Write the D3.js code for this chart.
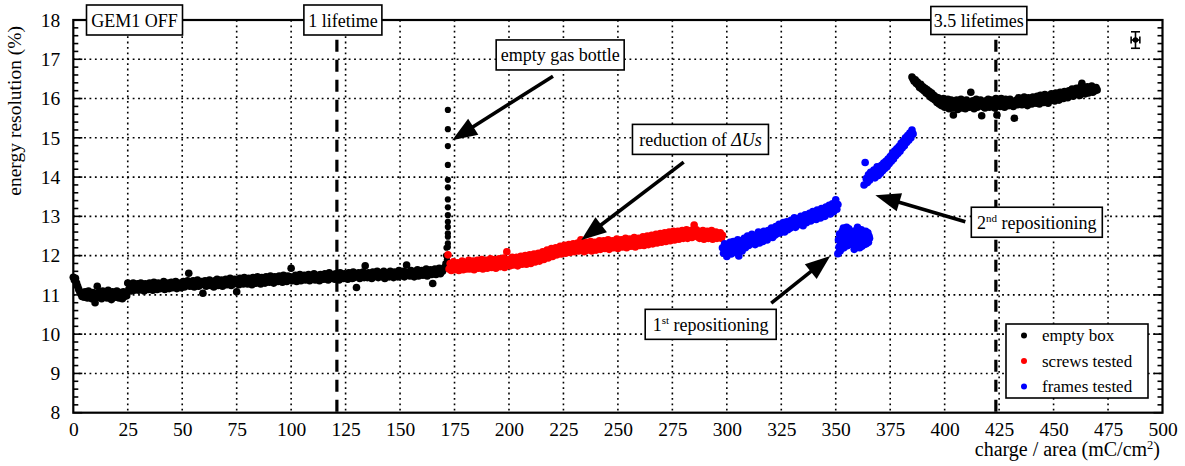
<!DOCTYPE html>
<html><head><meta charset="utf-8">
<script src="https://cdn.jsdelivr.net/npm/d3@7"></script>
<style>
html,body{margin:0;padding:0;background:#fff;}
svg{display:block;font-family:'Liberation Serif','Times New Roman',serif;}
</style></head>
<body>
<svg id="chart" width="1185" height="466"></svg>
<script>
// ---------------- DATA ----------------
const xTickValues = [0,25,50,75,100,125,150,175,200,225,250,275,300,325,350,375,400,425,450,475,500];
const yTickValues = [8,9,10,11,12,13,14,15,16,17,18];

// empty box (first part): measurements every 0.5 mC/cm2 starting at 0
const emptyBox1Start = 0;
const emptyBox1Y = [
11.45,11.38,11.42,11.30,11.22,11.14,11.08,11.02,10.96,11.06,
10.94,11.08,11.00,10.92,11.10,10.98,11.04,10.90,11.06,10.96,
10.80,11.02,11.22,10.94,11.08,10.98,10.90,11.10,11.00,10.94,
11.06,10.92,11.12,10.98,11.04,10.88,11.08,10.96,11.02,10.94,
11.10,10.96,10.92,11.06,11.00,10.90,11.08,10.96,11.04,10.98,
11.30,11.14,11.26,11.10,11.20,11.30,11.12,11.24,11.16,11.28,
11.12,11.22,11.30,11.16,11.24,11.10,11.28,11.18,11.22,11.14,
11.30,11.18,11.24,11.12,11.32,11.20,11.26,11.14,11.30,11.22,
11.16,11.28,11.20,11.34,11.14,11.26,11.22,11.30,11.16,11.24,
11.32,11.18,11.26,11.20,11.34,11.16,11.28,11.22,11.30,11.18,
11.26,11.34,11.20,11.30,11.24,11.36,11.55,11.22,11.30,11.26,
11.36,11.20,11.32,11.24,11.38,11.22,11.30,11.26,11.34,11.04,
11.28,11.36,11.22,11.32,11.26,11.38,11.24,11.34,11.28,11.20,
11.36,11.26,11.40,11.24,11.32,11.28,11.38,11.22,11.34,11.30,
11.40,11.26,11.34,11.30,11.42,11.24,11.36,11.28,11.40,11.32,
11.08,11.36,11.26,11.42,11.30,11.38,11.28,11.44,11.32,11.36,
11.28,11.42,11.34,11.38,11.26,11.44,11.32,11.40,11.30,11.46,
11.34,11.38,11.28,11.44,11.36,11.42,11.30,11.46,11.34,11.40,
11.32,11.48,11.36,11.42,11.30,11.46,11.38,11.44,11.34,11.48,
11.36,11.42,11.32,11.50,11.38,11.44,11.34,11.48,11.40,11.46,
11.68,11.36,11.44,11.40,11.50,11.34,11.46,11.42,11.52,11.36,
11.48,11.40,11.50,11.38,11.46,11.42,11.52,11.36,11.48,11.44,
11.40,11.54,11.38,11.48,11.44,11.50,11.36,11.52,11.42,11.48,
11.40,11.54,11.44,11.50,11.38,11.56,11.42,11.48,11.46,11.52,
11.40,11.54,11.44,11.50,11.38,11.56,11.46,11.50,11.42,11.54,
11.44,11.52,11.40,11.56,11.46,11.50,11.42,11.58,11.44,11.52,
11.19,11.48,11.56,11.42,11.52,11.46,11.58,11.44,11.74,11.50,
11.44,11.56,11.48,11.52,11.42,11.58,11.46,11.54,11.50,11.60,
11.44,11.56,11.48,11.52,11.46,11.60,11.42,11.56,11.50,11.54,
11.46,11.60,11.48,11.56,11.44,11.58,11.50,11.54,11.46,11.62,
11.48,11.56,11.50,11.60,11.46,11.58,11.76,11.52,11.56,11.48,
11.62,11.50,11.58,11.46,11.60,11.54,11.64,11.48,11.58,11.52,
11.62,11.50,11.60,11.54,11.66,11.48,11.60,11.56,11.64,11.52,
11.29,11.58,11.66,11.52,11.62,11.56,11.68,11.54,11.64,11.60,
11.66,11.70];

// empty gas bottle spike (empty box series)
const gasBottleX = [170.8,171.1,171.3,171.5,171.95,171.95,171.95,171.95,171.95,171.95,171.95,171.95,171.95,171.95,171.95,171.95,171.95,171.95,171.95];
const gasBottleY = [11.80,12.00,12.20,11.90,12.22,12.31,12.48,12.57,12.73,12.86,13.03,13.23,13.43,13.74,13.93,14.31,14.79,15.22,15.71];

// screws tested: every 0.5 mC/cm2 starting at 172
const screwsStart = 172;
const screwsY = [
12.02,11.66,11.80,11.62,11.74,11.84,11.64,11.76,11.68,11.82,
11.62,11.78,11.70,11.86,11.64,11.76,11.82,11.66,11.74,11.88,
11.66,11.80,11.72,11.86,11.64,11.78,11.70,11.88,11.68,11.80,
11.74,11.90,11.66,11.82,11.76,11.88,11.68,11.84,11.72,11.92,
11.70,11.84,11.76,11.90,11.68,11.86,11.78,11.92,11.72,11.84,
11.80,11.94,11.70,11.88,12.10,11.78,11.90,11.74,11.86,11.96,
11.76,11.90,11.82,11.96,11.74,11.88,11.80,11.98,11.78,11.92,
11.84,12.00,11.78,11.94,11.86,12.02,11.80,11.96,11.88,12.04,
11.84,11.98,11.92,12.06,11.86,12.02,11.96,12.10,11.90,12.06,
12.00,12.14,11.94,12.08,12.04,12.18,11.98,12.12,12.06,12.20,
12.02,12.16,12.10,12.24,12.04,12.18,12.12,12.26,12.06,12.20,
12.14,12.28,12.08,12.22,12.16,12.30,12.10,12.24,12.18,12.32,
12.12,12.26,12.40,12.16,12.30,12.10,12.22,12.34,12.14,12.28,
12.20,12.36,12.12,12.26,12.18,12.34,12.14,12.30,12.22,12.38,
12.16,12.32,12.24,12.38,12.18,12.30,12.22,12.40,12.16,12.34,
12.24,12.38,12.20,12.34,12.26,12.42,12.18,12.36,12.28,12.40,
12.22,12.36,12.30,12.44,12.20,12.38,12.26,12.42,12.24,12.36,
12.30,12.46,12.22,12.40,12.28,12.44,12.26,12.38,12.32,12.48,
12.26,12.42,12.34,12.50,12.28,12.44,12.36,12.52,12.30,12.46,
12.38,12.54,12.32,12.48,12.40,12.56,12.34,12.50,12.42,12.58,
12.36,12.52,12.44,12.60,12.38,12.54,12.46,12.62,12.40,12.56,
12.48,12.62,12.42,12.58,12.50,12.64,12.44,12.60,12.52,12.66,
12.44,12.58,12.50,12.64,12.46,12.60,12.78,12.52,12.66,12.48,
12.62,12.44,12.58,12.50,12.64,12.42,12.56,12.48,12.62,12.44,
12.58,12.50,12.64,12.42,12.56,12.46,12.60,12.44,12.54,12.48,
12.58,12.44,12.52];

// frames tested, first stretch: every 0.5 starting at 298
const frames1Start = 298;
const frames1Y = [
12.20,12.06,12.30,12.12,11.98,12.24,12.10,12.34,12.04,12.20,
12.36,12.08,12.26,12.14,12.40,11.99,12.22,12.38,12.12,12.30,
12.44,12.20,12.36,12.50,12.26,12.42,12.30,12.54,12.34,12.46,
12.28,12.52,12.38,12.60,12.32,12.48,12.56,12.36,12.62,12.44,
12.54,12.40,12.64,12.48,12.58,12.70,12.46,12.62,12.52,12.74,
12.56,12.68,12.80,12.58,12.72,12.64,12.84,12.60,12.76,12.86,
12.66,12.80,12.70,12.90,12.74,12.84,12.96,12.72,12.88,12.78,
12.94,12.80,13.00,12.86,12.76,12.96,13.04,12.84,12.98,12.90,
13.08,12.88,13.02,13.12,12.94,13.06,12.92,13.16,13.00,13.10,
12.96,13.20,13.04,13.14,13.00,13.24,13.08,13.18,13.28,13.06,
13.22,13.32,13.12,13.26,13.42,13.18,13.30];

// frames tested, after 1st repositioning: every 0.25 starting at 351
const frames2Start = 351;
const frames2Y = [
12.05,12.40,12.22,12.55,12.12,12.35,12.48,12.18,12.62,12.30,
12.70,12.20,12.45,12.28,12.60,12.38,12.72,12.25,12.55,12.34,
12.68,12.28,12.50,12.36,12.62,12.30,12.58,12.40,12.52,12.45,
12.16,12.42,12.30,12.64,12.22,12.50,12.72,12.26,12.40,12.58,
12.20,12.46,12.34,12.66,12.24,12.52,12.38,12.60,12.28,12.48,
12.36,12.62,12.30,12.54,12.42,12.58,12.34,12.50,12.44];

// frames tested, after 2nd repositioning: every 0.5 starting at 363
const frames3Start = 363;
const frames3Y = [
13.80,14.37,13.96,13.86,14.06,13.92,14.12,13.98,14.04,14.18,
13.98,14.14,14.26,14.04,14.20,14.10,14.30,14.16,14.36,14.22,
14.40,14.26,14.46,14.34,14.52,14.40,14.60,14.46,14.66,14.54,
14.72,14.60,14.78,14.66,14.86,14.74,14.92,14.80,15.00,14.88,
15.06,14.94,15.12,15.00,15.20,15.10];

// empty box (second part): every 0.5 starting at 385
const emptyBox2Start = 385;
const emptyBox2Y = [
16.55,16.50,16.44,16.48,16.38,16.42,16.34,16.28,16.36,16.24,
16.30,16.20,16.26,16.14,16.22,16.10,16.18,16.04,16.14,16.00,
16.08,15.96,16.04,15.90,16.02,15.86,15.98,15.82,15.94,16.00,
15.78,15.92,15.84,15.98,15.74,15.88,15.96,15.76,15.58,15.90,
15.80,15.96,15.72,15.88,15.82,15.98,15.76,15.92,15.84,15.74,
15.96,15.80,15.90,15.78,16.16,15.86,15.94,15.74,15.88,15.98,
15.78,15.92,15.84,15.96,15.56,15.80,15.90,15.76,15.94,15.84,
15.98,15.78,15.88,15.96,15.80,15.92,15.76,16.00,15.58,15.86,
15.94,15.80,16.00,15.84,15.92,15.78,15.98,15.86,15.94,15.82,
15.98,15.84,15.92,15.80,15.50,15.90,15.96,15.84,16.02,15.88,
15.98,15.84,15.94,16.04,15.86,15.96,15.82,16.02,15.90,15.98,
15.86,16.04,15.92,16.00,15.88,16.06,15.94,15.86,16.08,15.96,
16.02,15.90,16.10,15.94,16.04,15.88,16.08,15.98,16.12,15.96,
16.06,15.94,16.14,16.00,16.08,15.96,16.16,16.02,16.10,16.00,
16.18,16.04,16.12,16.02,16.20,16.08,16.14,16.24,16.06,16.18,
16.10,16.26,16.14,16.20,16.08,16.30,16.39,16.16,16.28,16.12,
16.22,16.30,16.14,16.26,16.18,16.32,16.16,16.24,16.20,16.28,
16.22];

const lifetimeX = [121, 423.5];
const lifetimeLabels = ["1 lifetime", "3.5 lifetimes"];
const legendLabels = ["empty box", "screws tested", "frames tested"];
const legendColors = ["#000000", "#ff0000", "#0000ff"];

// typical uncertainty marker
const errPoint = {x: 487.6, y: 17.49, ex: 2.0, ey: 0.21};

// ---------------- CHART ----------------
const svg = d3.select("#chart");
const x = d3.scaleLinear().domain([0, 500]).range([73.3, 1162.5]);
const y = d3.scaleLinear().domain([8, 18]).range([412.7, 20]);
const FONT = "'Liberation Serif','Times New Roman',serif";

function seq(start, step, arr) { return arr.map((v, i) => ({x: start + i * step, y: v})); }

const blackBand = seq(emptyBox1Start, 0.5, emptyBox1Y).concat(seq(emptyBox2Start, 0.5, emptyBox2Y));
const blackSpike = gasBottleX.map((v, i) => ({x: v, y: gasBottleY[i]}));
const red = seq(screwsStart, 0.5, screwsY);
const blue = seq(frames1Start, 0.5, frames1Y)
  .concat(seq(frames2Start, 0.25, frames2Y))
  .concat(seq(frames3Start, 0.5, frames3Y));

// grid
const grid = svg.append("g");
grid.selectAll("line.gx").data(xTickValues.filter(v => v > 0 && v < 500)).enter().append("line")
  .attr("x1", d => x(d)).attr("x2", d => x(d)).attr("y1", y(18)).attr("y2", y(8))
  .attr("stroke", "#000").attr("stroke-width", 1.6).attr("stroke-dasharray", "1.8,3.6");
grid.selectAll("line.gy").data(yTickValues.filter(v => v > 8 && v < 18)).enter().append("line")
  .attr("x1", x(0)).attr("x2", x(500)).attr("y1", d => y(d)).attr("y2", d => y(d))
  .attr("stroke", "#000").attr("stroke-width", 1.6).attr("stroke-dasharray", "1.8,3.6");

// lifetime dashed lines
svg.selectAll("line.life").data(lifetimeX).enter().append("line")
  .attr("x1", d => x(d)).attr("x2", d => x(d)).attr("y1", y(17.5)).attr("y2", y(8))
  .attr("stroke", "#000").attr("stroke-width", 3.2).attr("stroke-dasharray", "12,8");

// points
const R = 3.8, RS = 3.1;
const pts = svg.append("g");
pts.selectAll("circle.b").data(blackBand).enter().append("circle")
  .attr("cx", d => x(d.x)).attr("cy", d => y(d.y)).attr("r", R).attr("fill", "#000");
pts.selectAll("circle.s").data(blackSpike).enter().append("circle")
  .attr("cx", d => x(d.x)).attr("cy", d => y(d.y)).attr("r", RS).attr("fill", "#000");
pts.selectAll("circle.r").data(red).enter().append("circle")
  .attr("cx", d => x(d.x)).attr("cy", d => y(d.y)).attr("r", R).attr("fill", "#ff0000");
pts.selectAll("circle.u").data(blue).enter().append("circle")
  .attr("cx", d => x(d.x)).attr("cy", d => y(d.y)).attr("r", R).attr("fill", "#0000ff");

// axes labels via d3 axes
const xAxis = svg.append("g").attr("transform", `translate(0,${y(8)})`)
  .call(d3.axisBottom(x).tickValues(xTickValues).tickSize(0).tickPadding(9).tickFormat(d3.format("d")));
xAxis.select(".domain").remove();
xAxis.selectAll("text").style("font-family", FONT).attr("font-size", 19.5).attr("fill", "#000");

const yAxis = svg.append("g").attr("transform", `translate(${x(0)},0)`)
  .call(d3.axisLeft(y).tickValues(yTickValues).tickSize(0).tickPadding(13).tickFormat(d3.format("d")));
yAxis.select(".domain").remove();
yAxis.selectAll("text").style("font-family", FONT).attr("font-size", 19.5).attr("fill", "#000");

// y ticks (inward) on both sides
const minorY = d3.range(8, 18.001, 0.2).map(v => +v.toFixed(1));
const tk = svg.append("g").attr("stroke", "#000").attr("stroke-width", 1.6);
minorY.forEach(v => {
  const major = Math.abs(v - Math.round(v)) < 1e-6;
  const L = major ? 9 : 5;
  tk.append("line").attr("x1", x(0)).attr("x2", x(0) + L).attr("y1", y(v)).attr("y2", y(v));
  tk.append("line").attr("x1", x(500)).attr("x2", x(500) - L).attr("y1", y(v)).attr("y2", y(v));
});

// frame
svg.append("rect").attr("x", x(0)).attr("y", y(18)).attr("width", x(500) - x(0)).attr("height", y(8) - y(18))
  .attr("fill", "none").attr("stroke", "#000").attr("stroke-width", 2.2);

// axis titles
svg.append("text").attr("x", 1160).attr("y", 456).attr("text-anchor", "end")
  .style("font-family", FONT).attr("font-size", 20)
  .html('charge / area (mC/cm<tspan dy="-7" font-size="12.5">2</tspan><tspan dy="7">)</tspan>');
svg.append("text").attr("transform", "translate(21,26) rotate(-90)").attr("text-anchor", "end")
  .style("font-family", FONT).attr("font-size", 19.5).text("energy resolution (%)");

// error marker
const ex = x(errPoint.x), ey = y(errPoint.y);
const em = svg.append("g").attr("stroke", "#000").attr("stroke-width", 1.6);
em.append("line").attr("x1", ex).attr("x2", ex).attr("y1", y(errPoint.y + errPoint.ey)).attr("y2", y(errPoint.y - errPoint.ey));
em.append("line").attr("x1", ex - 4.5).attr("x2", ex + 4.5).attr("y1", y(errPoint.y + errPoint.ey)).attr("y2", y(errPoint.y + errPoint.ey));
em.append("line").attr("x1", ex - 4.5).attr("x2", ex + 4.5).attr("y1", y(errPoint.y - errPoint.ey)).attr("y2", y(errPoint.y - errPoint.ey));
em.append("line").attr("x1", x(errPoint.x - errPoint.ex)).attr("x2", x(errPoint.x + errPoint.ex)).attr("y1", ey).attr("y2", ey);
em.append("line").attr("x1", x(errPoint.x - errPoint.ex)).attr("x2", x(errPoint.x - errPoint.ex)).attr("y1", ey - 3.5).attr("y2", ey + 3.5);
em.append("line").attr("x1", x(errPoint.x + errPoint.ex)).attr("x2", x(errPoint.x + errPoint.ex)).attr("y1", ey - 3.5).attr("y2", ey + 3.5);
svg.append("circle").attr("cx", ex).attr("cy", ey).attr("r", 2.8).attr("fill", "#000");

// arrows
const arrows = [
  {from: [220.2, 16.57], to: [173.9, 14.94]},
  {from: [280.2, 14.38], to: [233.2, 12.40]},
  {from: [320.4, 10.79], to: [347.5, 11.99]},
  {from: [409.5, 12.86], to: [368.2, 13.54]}
];
arrows.forEach(a => {
  const x1 = x(a.from[0]), y1 = y(a.from[1]), x2 = x(a.to[0]), y2 = y(a.to[1]);
  const dx = x2 - x1, dy = y2 - y1, len = Math.hypot(dx, dy);
  const ux = dx / len, uy = dy / len, hl = 25, hw = 9.5;
  const bx = x2 - ux * hl, by = y2 - uy * hl;
  svg.append("line").attr("x1", x1).attr("y1", y1).attr("x2", bx + ux * 2).attr("y2", by + uy * 2)
    .attr("stroke", "#000").attr("stroke-width", 3.6);
  svg.append("path").attr("d", `M${x2},${y2}L${bx - uy * hw},${by + ux * hw}L${bx + uy * hw},${by - ux * hw}Z`).attr("fill", "#000");
});

// label boxes
function labelBox(cx, cy, w, h, html, fs) {
  const g = svg.append("g");
  g.append("rect").attr("x", cx - w / 2).attr("y", cy - h / 2).attr("width", w).attr("height", h)
    .attr("fill", "#fff").attr("stroke", "#000").attr("stroke-width", 1.6);
  g.append("text").attr("x", cx).attr("y", cy + 6.5).attr("text-anchor", "middle")
    .style("font-family", FONT).attr("font-size", fs || 18).html(html);
}
labelBox(134.5, 20, 96, 30, "GEM1 OFF");
labelBox(x(lifetimeX[0]) + 6, 20, 78, 30, lifetimeLabels[0]);
labelBox(x(lifetimeX[1]) - 17, 20.5, 96, 28, lifetimeLabels[1]);
labelBox(x(223.5), y(17.11), 128, 30, "empty gas bottle");
labelBox(x(287.9), y(14.96), 136, 30, 'reduction of <tspan font-style="italic">ΔUs</tspan>');
labelBox(x(292.6), y(10.25), 131, 30, '1<tspan dy="-7" font-size="11">st</tspan><tspan dy="7"> repositioning</tspan>');
labelBox(x(442.3), y(12.85), 131, 30, '2<tspan dy="-7" font-size="11">nd</tspan><tspan dy="7"> repositioning</tspan>');

// legend
const lg = svg.append("g");
lg.append("rect").attr("x", 1006).attr("y", 324).attr("width", 142).attr("height", 74)
  .attr("fill", "#fff").attr("stroke", "#000").attr("stroke-width", 1.6);
legendLabels.forEach((l, i) => {
  const yy = 335.5 + i * 25.5;
  lg.append("circle").attr("cx", 1024).attr("cy", yy).attr("r", 3).attr("fill", legendColors[i]);
  lg.append("text").attr("x", 1042).attr("y", yy + 5.5).style("font-family", FONT).attr("font-size", 17).text(l);
});
</script>
</body></html>
